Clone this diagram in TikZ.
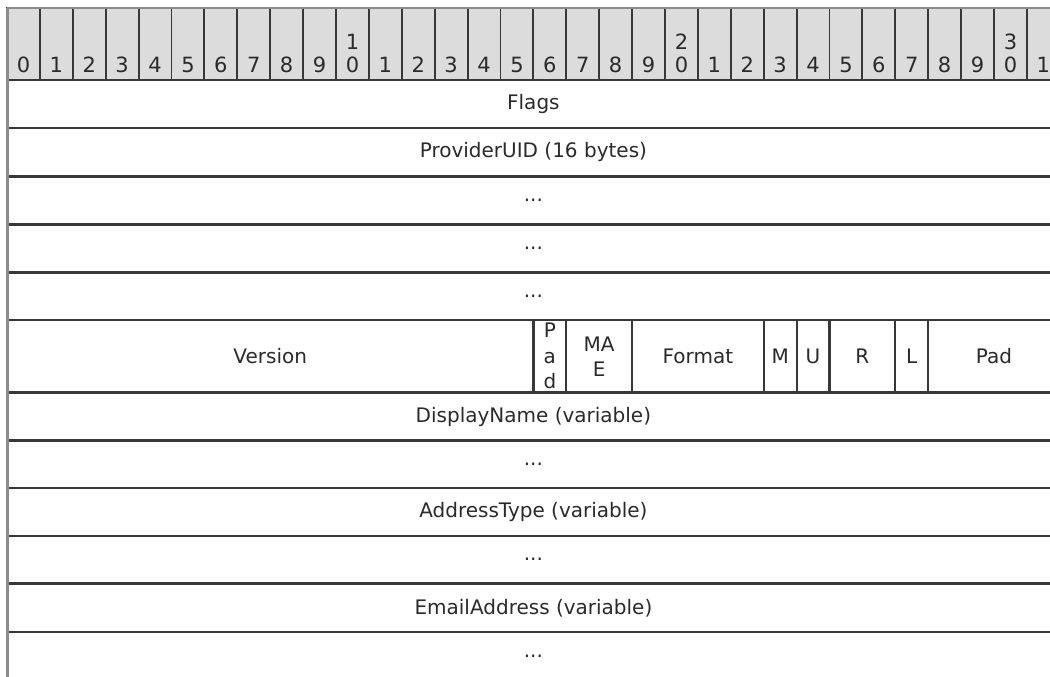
\documentclass[tikz,border=0pt]{standalone}
\usepackage{fontspec}
\setmainfont{DejaVu Sans}
\definecolor{gridline}{HTML}{383838}
\definecolor{headfill}{HTML}{DCDCDC}
\definecolor{edgegray}{HTML}{8C8C8C}
\definecolor{txt}{HTML}{2A2A2A}
\tikzset{
  cellbox/.style={draw=gridline, line width=2.2pt, inner sep=0pt, outer sep=0pt, text=txt,
    font=\fontsize{20}{25}\selectfont, align=center},
  headbox/.style={cellbox, fill=headfill, line width=1.9pt},
  headlab/.style={anchor=south, inner sep=0pt, yshift=7pt, text=txt, align=center,
    font=\fontsize{21}{23}\selectfont},
  tallstack/.style={font=\fontsize{20}{25.5}\selectfont},
}
\newcommand\rowcell[4]{%
  \pgfmathsetmacro\cy{(#2+#3)/2}\pgfmathsetmacro\ch{#3-#2}%
  \node[cellbox, minimum width=1052.8pt, minimum height=\ch pt] (#1) at (533.4,\cy) {#4};}
\newcommand\fieldcell[5][]{%
  \pgfmathsetmacro\cx{7+(#3+#4)/2*32.9}\pgfmathsetmacro\cw{(#4-#3)*32.9}%
  \node[cellbox, minimum width=\cw pt, minimum height=72.5pt, #1] (#2) at (\cx,356.25) {#5};}
\begin{document}
\begin{tikzpicture}[x=1pt,y=-1pt]
\useasboundingbox (0,0) rectangle (1050,677);
\foreach \k in {0,...,31}{
  \pgfmathtruncatemacro\ones{mod(\k,10)}
  \pgfmathtruncatemacro\tens{div(\k,10)}
  \pgfmathsetmacro\cx{7+(\k+0.5)*32.9}
  \ifnum\ones=0 \ifnum\k>0 \edef\lab{\tens\noexpand\\\ones}\else\edef\lab{\ones}\fi\else\edef\lab{\ones}\fi
  \node[headbox, minimum width=32.9pt, minimum height=72pt, label={[headlab]south:\lab}] (h\k) at (\cx,44) {};
}
\rowcell{flags}{80}{128}{Flags}
\rowcell{uid}{128}{176.5}{ProviderUID (16 bytes)}
\rowcell{uida}{176.5}{224.5}{...}
\rowcell{uidb}{224.5}{272.5}{...}
\rowcell{uidc}{272.5}{320}{...}
\fieldcell{version}{0}{16}{Version}
\fieldcell[tallstack]{pada}{16}{17}{P\\a\\d}
\fieldcell{mae}{17}{19}{MA\\E}
\fieldcell{format}{19}{23}{Format}
\fieldcell{m}{23}{24}{M}
\fieldcell{u}{24}{25}{U}
\fieldcell{r}{25}{27}{R}
\fieldcell{l}{27}{28}{L}
\fieldcell{padb}{28}{32}{Pad}
\rowcell{dname}{392.5}{440.5}{DisplayName (variable)}
\rowcell{dnamea}{440.5}{488}{...}
\rowcell{atype}{488}{536}{AddressType (variable)}
\rowcell{atypea}{536}{583.5}{...}
\rowcell{email}{583.5}{632}{EmailAddress (variable)}
\rowcell{emaila}{632}{680}{...}
\draw[edgegray, line width=2pt] (h0.north west) -- (h31.north east);
\draw[edgegray, line width=3pt] (h0.north west) -- (emaila.south west);
\end{tikzpicture}
\end{document}
